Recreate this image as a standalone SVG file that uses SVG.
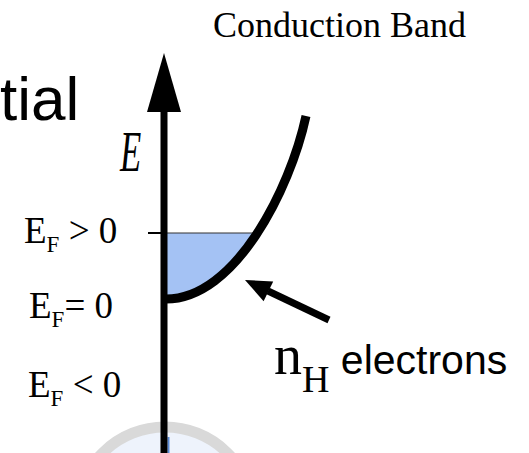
<svg xmlns="http://www.w3.org/2000/svg" width="529" height="453" viewBox="0 0 529 453">
<defs>
<style>
.serif{font-family:"Liberation Serif","Times New Roman",serif;fill:#000}
.sans{font-family:"Liberation Sans",Arial,sans-serif;fill:#000}
.lbl{font-size:37px}
.sub{font-size:23px}
</style>
<clipPath id="fillclip"><rect x="160" y="233" width="200" height="80"/></clipPath>
</defs>
<rect width="529" height="453" fill="#fff"/>
<g id="bottom-circle">
<circle cx="165" cy="515" r="88" fill="#eef3fc" stroke="#d9d9d9" stroke-width="11"/>
<line x1="168.5" y1="437" x2="168.5" y2="453" stroke="#5a8ad6" stroke-width="2"/>
</g>
<g id="title-fragment"><text class="sans" x="0" y="120" font-size="62">tial</text></g>
<g id="conduction-band-label"><text class="serif" x="213" y="37" font-size="36">Conduction Band</text></g>
<g id="fermi-sea">
<path d="M166,299 C235,299 290,190 306,116 L166,116 Z" fill="#a4c2f4" clip-path="url(#fillclip)"/>
<line x1="164" y1="233" x2="258" y2="233" stroke="#333" stroke-width="1.2"/>
</g>
<g id="band-curve">
<path d="M166,299 C235,299 290,190 306,116" fill="none" stroke="#000" stroke-width="9"/>
</g>
<g id="energy-axis">
<line x1="164" y1="108" x2="164" y2="453" stroke="#000" stroke-width="7"/>
<polygon points="164,53 147,112 181,112" fill="#000"/>
<line x1="148" y1="233" x2="162" y2="233" stroke="#000" stroke-width="2"/>
<text class="serif" font-style="italic" font-size="58" transform="translate(120,171) scale(0.6,1)">E</text>
</g>
<g id="level-labels">
<text class="serif lbl" x="24" y="243">E<tspan class="sub" dy="9">F</tspan><tspan dy="-9"> &gt; 0</tspan></text>
<text class="serif lbl" x="29" y="318">E<tspan class="sub" dy="9">F</tspan><tspan dy="-9">= 0</tspan></text>
<text class="serif lbl" x="28" y="397">E<tspan class="sub" dy="9">F</tspan><tspan dy="-9"> &lt; 0</tspan></text>
</g>
<g id="connectors">
<line x1="268" y1="291" x2="329" y2="320" stroke="#000" stroke-width="7"/>
<polygon points="245,280 263.6,301.2 273.2,281.4" fill="#000"/>
</g>
<g id="electrons-label">
<text x="274" y="374"><tspan class="serif" font-size="56">n</tspan><tspan class="serif" font-size="38" dy="18">H</tspan><tspan class="sans" font-size="41" dy="-18"> electrons</tspan></text>
</g>
</svg>
